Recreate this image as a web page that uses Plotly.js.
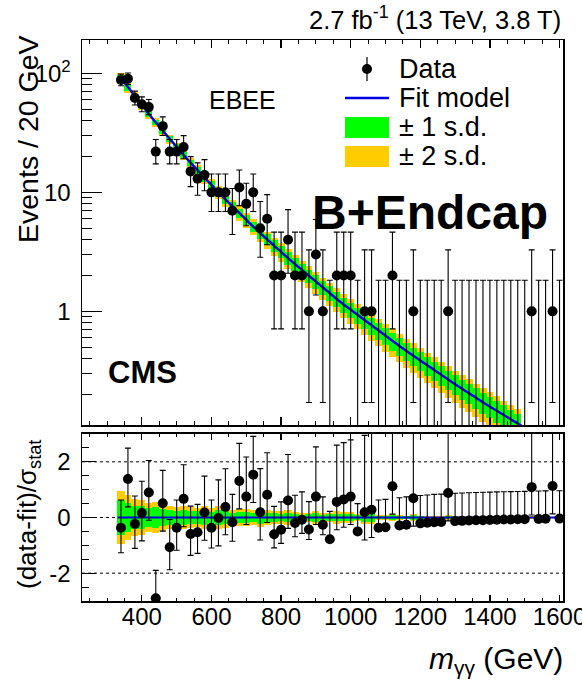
<!DOCTYPE html>
<html><head><meta charset="utf-8">
<script src="https://cdn.plot.ly/plotly-3.0.1.min.js"></script>
<style>html,body{margin:0;padding:0;background:#fff}</style>
</head><body>
<div id="chart" style="width:582px;height:680px"></div>
<script>
// ---- data ----
const mass = [340,360,380,400,420,440,460,480,500,520,540,560,580,600,620,640,660,680,700,720,740,760,780,800,820,840,860,880,900,920,940,960,980,1000,1020,1040,1060,1080,1100,1120,1140,1160,1180,1200,1220,1240,1260,1280,1300,1320,1340,1360,1380,1400,1420,1440,1460,1480,1500,1520,1540,1560,1580,1600];
const counts = [88,90,62,55,52,22,36,22,22,24,15,13,14,10,10,10,7,11,8,10,5,6,2,2,4,2,2,1,3,1,0,2,2,2,0,1,1,0,0,2,0,0,1,0,0,0,0,1,0,0,0,0,0,0,0,0,0,0,0,1,0,0,1,0];
const fitValues = [91.2,76.2,63.9,53.8,45.5,38.6,32.8,28.0,23.96,20.56,17.71,15.29,13.24,11.49,9.99,8.72,7.62,6.67,5.86,5.16,4.55,4.01,3.55,3.15,2.80,2.49,2.22,1.98,1.77,1.58,1.42,1.27,1.14,1.03,0.929,0.838,0.757,0.685,0.620,0.562,0.511,0.464,0.422,0.384,0.350,0.320,0.292,0.267,0.244,0.223,0.205,0.188,0.172,0.158,0.146,0.134,0.1235,0.1138,0.105,0.0969,0.0895,0.0827,0.0765,0.0708];
const pulls = [-0.37,1.38,-0.23,0.16,0.90,-2.90,0.51,-1.07,-0.37,0.67,-0.59,-0.53,0.18,-0.37,-0.02,0.38,-0.17,1.31,0.75,1.54,0.19,0.82,-0.60,-0.44,0.61,-0.20,-0.08,-0.43,0.75,-0.26,-0.78,0.56,0.65,0.75,-0.50,0.19,0.28,-0.37,-0.35,1.12,-0.29,-0.26,0.69,-0.21,-0.19,-0.17,-0.16,0.88,-0.13,-0.12,-0.11,-0.10,-0.095,-0.09,-0.08,-0.075,-0.07,-0.065,-0.06,1.09,-0.05,-0.045,1.13,-0.04];
const fitRel1 = [0.070,0.063,0.058,0.055,0.054,0.054,0.054,0.056,0.058,0.061,0.065,0.069,0.073,0.076,0.080,0.084,0.088,0.091,0.095,0.099,0.103,0.106,0.110,0.114,0.118,0.122,0.125,0.129,0.133,0.137,0.140,0.143,0.146,0.149,0.152,0.156,0.159,0.162,0.165,0.168,0.170,0.173,0.175,0.178,0.180,0.183,0.185,0.188,0.190,0.193,0.195,0.198,0.200,0.203,0.205,0.208,0.210,0.213,0.215,0.218,0.220,0.223,0.226,0.228];
const fitRel2 = [0.110,0.100,0.092,0.087,0.085,0.085,0.086,0.088,0.092,0.097,0.103,0.109,0.115,0.121,0.127,0.133,0.139,0.145,0.151,0.157,0.163,0.169,0.175,0.181,0.187,0.193,0.199,0.205,0.211,0.217,0.222,0.227,0.232,0.237,0.242,0.247,0.252,0.257,0.262,0.266,0.270,0.274,0.278,0.282,0.286,0.290,0.294,0.298,0.302,0.306,0.310,0.314,0.318,0.322,0.326,0.330,0.334,0.338,0.342,0.346,0.350,0.354,0.358,0.362];
const xTickVals = [400,600,800,1000,1200,1400,1600];
const yTopTickVals = [1,10,100];
const yTopTickText = ['1','10','10<sup>2</sup>'];
const pullTickVals = [-2,0,2];
const pullTickText = ['-2','0','2'];
const binWidth = 20;

// ---- helpers ----
const FONT = 'Liberation Sans, Arial, Helvetica, sans-serif';
const GREEN = '#00ff00', YELLOW = '#ffcc00', BLUE = '#0000e6';
const L = 82, R = 19, T = 40, B = 79, W = 582, H = 680;
const pw = W - L - R, ph = H - T - B;
const px2x = p => (p - L) / pw;
const px2y = p => (H - B - p) / ph;
const yTopRange = [-0.955, 2.28];
const yTopMin = Math.pow(10, yTopRange[0]);

function poisLo(n){ if(n===0) return 0; const a = 1 - 1/(9*n) - 1/(3*Math.sqrt(n)); return n*a*a*a; }
function poisHi(n){ const m = n+1; const a = 1 - 1/(9*m) + 1/(3*Math.sqrt(m)); return m*a*a*a; }

const bandIdx = mass.map((m,i)=>i).filter(i => fitValues[i] >= yTopMin);
const nzIdx = mass.map((m,i)=>i).filter(i => counts[i] > 0);
const zIdx = mass.map((m,i)=>i).filter(i => counts[i] === 0);

const traces = [];
traces.push({type:'bar', xaxis:'x2', yaxis:'y', x: bandIdx.map(i=>mass[i]), width: binWidth*1.02,
  base: bandIdx.map(i=>fitValues[i]*(1-fitRel2[i])), y: bandIdx.map(i=>2*fitValues[i]*fitRel2[i]),
  marker:{color:YELLOW, line:{width:0}}, hoverinfo:'skip'});
traces.push({type:'bar', xaxis:'x2', yaxis:'y', x: bandIdx.map(i=>mass[i]), width: binWidth*1.02,
  base: bandIdx.map(i=>fitValues[i]*(1-fitRel1[i])), y: bandIdx.map(i=>2*fitValues[i]*fitRel1[i]),
  marker:{color:GREEN, line:{width:0}}, hoverinfo:'skip'});
traces.push({type:'scatter', mode:'lines', xaxis:'x2', yaxis:'y', x: mass, y: fitValues,
  line:{color:BLUE, width:2.4}, hoverinfo:'skip'});
traces.push({type:'scatter', mode:'markers', xaxis:'x2', yaxis:'y', x: zIdx.map(i=>mass[i]), y: zIdx.map(()=>1e-3),
  marker:{size:1, opacity:0},
  error_y:{type:'data', symmetric:false, array: zIdx.map(i=>poisHi(0)-1e-3), arrayminus: zIdx.map(()=>0),
    color:'#000', thickness:1.1, width:3}, hoverinfo:'skip'});
traces.push({type:'scatter', mode:'markers', xaxis:'x2', yaxis:'y', x: nzIdx.map(i=>mass[i]), y: nzIdx.map(i=>counts[i]),
  marker:{size:10, color:'#000'},
  error_y:{type:'data', symmetric:false, array: nzIdx.map(i=>poisHi(counts[i])-counts[i]), arrayminus: nzIdx.map(i=>counts[i]-poisLo(counts[i])),
    color:'#000', thickness:1.1, width:3}, hoverinfo:'skip'});

const sigma = mass.map((m,i)=>{ const n = counts[i]; return n > fitValues[i] ? n - poisLo(n) : poisHi(n) - n; });
const b1 = mass.map((m,i)=> fitRel1[i]*fitValues[i]/sigma[i]);
const b2 = mass.map((m,i)=> fitRel2[i]*fitValues[i]/sigma[i]);
traces.push({type:'bar', xaxis:'x', yaxis:'y2', x: mass, width: binWidth*1.02, base: b2.map(v=>-v), y: b2.map(v=>2*v),
  marker:{color:YELLOW, line:{width:0}}, hoverinfo:'skip'});
traces.push({type:'bar', xaxis:'x', yaxis:'y2', x: mass, width: binWidth*1.02, base: b1.map(v=>-v), y: b1.map(v=>2*v),
  marker:{color:GREEN, line:{width:0}}, hoverinfo:'skip'});
traces.push({type:'scatter', mode:'lines', xaxis:'x', yaxis:'y2', x:[mass[0]-binWidth/2, 1610], y:[0,0],
  line:{color:BLUE, width:1.8}, hoverinfo:'skip'});
traces.push({type:'scatter', mode:'markers', xaxis:'x', yaxis:'y2', x: mass, y: pulls,
  marker:{size:10, color:'#000'},
  error_y:{type:'data', symmetric:false,
    array: mass.map((m,i)=>(poisHi(counts[i])-counts[i])/sigma[i]),
    arrayminus: mass.map((m,i)=>(counts[i]-poisLo(counts[i]))/sigma[i]),
    color:'#000', thickness:1.1, width:3}, hoverinfo:'skip'});

const minorLog = [];
[0.1,1,10,100].forEach(d => { for(let k=2;k<=9;k++) minorLog.push(k*d); });

const axLine = {showline:true, linecolor:'#000', linewidth:1.5, zeroline:false, showgrid:false};
const tickFont = {family:FONT, size:24, color:'#000'};

const layout = {
  width:W, height:H, margin:{l:L, r:R, t:T, b:B, pad:0},
  paper_bgcolor:'#fff', plot_bgcolor:'#fff', showlegend:false, barmode:'overlay', bargap:0,
  font:{family:FONT, color:'#000'},
  xaxis: Object.assign({domain:[0,1], anchor:'y2', range:[228,1610], tickmode:'array', tickvals:xTickVals,
    ticks:'inside', ticklen:6, tickwidth:1.2, tickcolor:'#000', mirror:'ticks', tickfont:tickFont,
    ticklabeloverflow:'allow', ticklabelstandoff:-6,
    minor:{tickmode:'linear', tick0:0, dtick:50, ticks:'inside', ticklen:3, tickwidth:1, tickcolor:'#000'}}, axLine),
  xaxis2: Object.assign({domain:[0,1], anchor:'y', matches:'x', range:[228,1610], showticklabels:false, tickmode:'array', tickvals:xTickVals,
    ticks:'inside', ticklen:8, tickwidth:1.2, tickcolor:'#000', mirror:'ticks',
    minor:{tickmode:'linear', tick0:0, dtick:50, ticks:'inside', ticklen:4, tickwidth:1, tickcolor:'#000'}}, axLine),
  yaxis: Object.assign({domain:[0.3137,1], anchor:'x2', type:'log', range:yTopRange, tickmode:'array', tickvals:yTopTickVals, ticktext:yTopTickText,
    ticks:'inside', ticklen:20, tickwidth:1.2, tickcolor:'#000', mirror:true, tickfont:tickFont, ticklabelstandoff:5,
    minor:{tickmode:'array', tickvals:minorLog, ticks:'inside', ticklen:10, tickwidth:1, tickcolor:'#000'}}, axLine),
  yaxis2: Object.assign({domain:[0,0.2977], anchor:'x', range:[-3,3], tickmode:'array', tickvals:pullTickVals, ticktext:pullTickText,
    ticks:'inside', ticklen:14, tickwidth:1.2, tickcolor:'#000', mirror:true, tickfont:tickFont, ticklabelstandoff:5,
    minor:{tickmode:'linear', tick0:0, dtick:0.5, ticks:'inside', ticklen:7, tickwidth:1, tickcolor:'#000'}}, axLine),
  shapes: [
    ...pullTickVals.map(v => ({type:'line', xref:'paper', yref:'y2', x0:0, x1:1, y0:v, y1:v, layer:'below',
      line:{color:'#000', width:1, dash:'dot'}})),
    {type:'line', xref:'paper', yref:'paper', x0:px2x(367), x1:px2x(367), y0:px2y(57), y1:px2y(81), line:{color:'#000', width:1.2}},
    {type:'circle', xref:'paper', yref:'paper', xsizemode:'pixel', ysizemode:'pixel', xanchor:px2x(367), yanchor:px2y(69),
      x0:-5, x1:5, y0:-5, y1:5, fillcolor:'#000', line:{width:0}},
    {type:'line', xref:'paper', yref:'paper', x0:px2x(345), x1:px2x(389), y0:px2y(98), y1:px2y(98), line:{color:BLUE, width:2.4}},
    {type:'rect', xref:'paper', yref:'paper', x0:px2x(345), x1:px2x(389), y0:px2y(138), y1:px2y(117), fillcolor:GREEN, line:{width:0}},
    {type:'rect', xref:'paper', yref:'paper', x0:px2x(345), x1:px2x(389), y0:px2y(167), y1:px2y(146), fillcolor:YELLOW, line:{width:0}}
  ],
  annotations: [
    {xref:'paper', yref:'paper', x:px2x(563), y:px2y(18), xanchor:'right', yanchor:'middle', showarrow:false,
      text:'2.7 fb<sup>-1</sup> (13 TeV, 3.8 T)', font:{family:FONT, size:25.5, color:'#000'}},
    {xref:'paper', yref:'paper', x:px2x(207), y:px2y(100), xanchor:'left', yanchor:'middle', showarrow:false,
      text:'EBEE', font:{family:FONT, size:25, color:'#000'}},
    {xref:'paper', yref:'paper', x:px2x(430), y:px2y(213), xanchor:'center', yanchor:'middle', showarrow:false,
      text:'<b>B+Endcap</b>', font:{family:FONT, size:48, color:'#000'}},
    {xref:'paper', yref:'paper', x:px2x(106), y:px2y(373), xanchor:'left', yanchor:'middle', showarrow:false,
      text:'<b>CMS</b>', font:{family:FONT, size:31, color:'#000'}},
    {xref:'paper', yref:'paper', x:px2x(397), y:px2y(69), xanchor:'left', yanchor:'middle', showarrow:false,
      text:'Data', font:{family:FONT, size:27, color:'#000'}},
    {xref:'paper', yref:'paper', x:px2x(397), y:px2y(98), xanchor:'left', yanchor:'middle', showarrow:false,
      text:'Fit model', font:{family:FONT, size:27, color:'#000'}},
    {xref:'paper', yref:'paper', x:px2x(397), y:px2y(127), xanchor:'left', yanchor:'middle', showarrow:false,
      text:'± 1 s.d.', font:{family:FONT, size:27, color:'#000'}},
    {xref:'paper', yref:'paper', x:px2x(397), y:px2y(156), xanchor:'left', yanchor:'middle', showarrow:false,
      text:'± 2 s.d.', font:{family:FONT, size:27, color:'#000'}},
    {xref:'paper', yref:'paper', x:px2x(565), y:px2y(660), xanchor:'right', yanchor:'middle', showarrow:false,
      text:'<i>m</i><sub>γγ</sub> (GeV)', font:{family:FONT, size:30, color:'#000'}},
    {xref:'paper', yref:'paper', x:px2x(28), y:px2y(139), xanchor:'center', yanchor:'middle', showarrow:false, textangle:-90,
      text:'Events / 20 GeV', font:{family:FONT, size:28.5, color:'#000'}},
    {xref:'paper', yref:'paper', x:px2x(28), y:px2y(515), xanchor:'center', yanchor:'middle', showarrow:false, textangle:-90,
      text:'(data-fit)/σ<sub>stat</sub>', font:{family:FONT, size:26, color:'#000'}}
  ]
};

Plotly.newPlot('chart', traces, layout, {staticPlot:true, displayModeBar:false});
</script>
</body></html>
